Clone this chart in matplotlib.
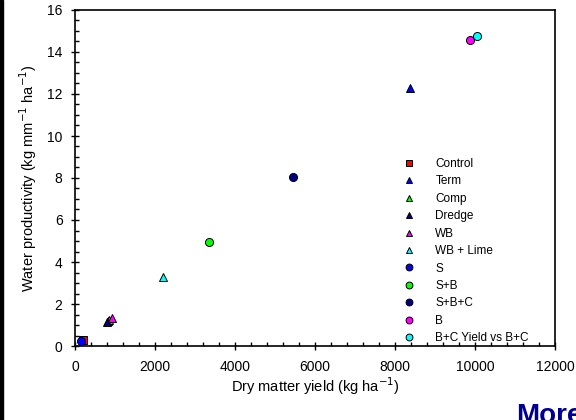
import matplotlib
matplotlib.use("Agg")
import matplotlib.pyplot as plt
from matplotlib.patches import Rectangle
from matplotlib.ticker import MultipleLocator

plt.rcParams["font.family"] = ["Liberation Sans", "DejaVu Sans"]

# -- Data ---------------------------------------------------------------------
labels = ["Control", "Term", "Comp", "Dredge", "WB", "WB + Lime",
          "S", "S+B", "S+B+C", "B", "B+C Yield vs B+C"]
markers = ["s", "^", "^", "^", "^", "^", "o", "o", "o", "o", "o"]
colors = ["#ff0000", "#0000ff", "#00ff00", "#000080", "#ff00ff", "#00ffff",
          "#0000ff", "#00ff00", "#000080", "#ff00ff", "#00ffff"]
x_vals = [[200], [820, 8380], [840], [790], [930], [2200],
          [150], [3350], [5450], [9880], [10050]]
y_vals = [[0.28], [1.2, 12.3], [1.22], [1.15], [1.35], [3.3],
          [0.25], [4.97], [8.05], [14.57], [14.78]]

fig = plt.figure(figsize=(5.76, 4.2), dpi=100)
ax = fig.add_axes([75 / 576, 74 / 420, 480 / 576, 336 / 420])

for lab, m, c, xs, ys in zip(labels, markers, colors, x_vals, y_vals):
    ax.plot(xs, ys, linestyle="none", marker=m, color=c, markersize=5.8,
            markeredgecolor="black", markeredgewidth=0.7, label=lab,
            clip_on=False, zorder=3)

ax.set_xlim(0, 12000)
ax.set_ylim(0, 16)
ax.xaxis.set_major_locator(MultipleLocator(2000))
ax.xaxis.set_minor_locator(MultipleLocator(400))
ax.yaxis.set_major_locator(MultipleLocator(2))
ax.yaxis.set_minor_locator(MultipleLocator(0.5))
ax.tick_params(which="major", direction="inout", length=6, width=1,
               labelsize=10, top=False, right=False)
ax.tick_params(axis="x", which="major", pad=7)
ax.tick_params(axis="y", which="major", pad=6)
ax.tick_params(which="minor", direction="in", length=3, width=1)
for s in ax.spines.values():
    s.set_linewidth(1.2)

ax.set_xlabel("Dry matter yield (kg ha$^{-1}$)", fontsize=10.5, labelpad=1)
ax.set_ylabel("Water productivity (kg mm$^{-1}$ ha$^{-1}$)", fontsize=10.5,
              labelpad=6)

leg = ax.legend(loc="upper left", bbox_to_anchor=(0.655, 0.584), frameon=False,
                fontsize=8.5, labelspacing=0.46, handletextpad=1.2,
                markerscale=0.85, borderpad=0.2)

# black bar along left edge and cut-off title text at bottom right
fig.patches.append(Rectangle((0, 0), 3 / 576, 1, transform=fig.transFigure,
                             color="black", zorder=10))
fig.text(516 / 576, -3 / 420, "More", fontsize=20, fontweight="bold",
         color="#000099", ha="left", va="baseline")

fig.savefig("out.png", dpi=100)
